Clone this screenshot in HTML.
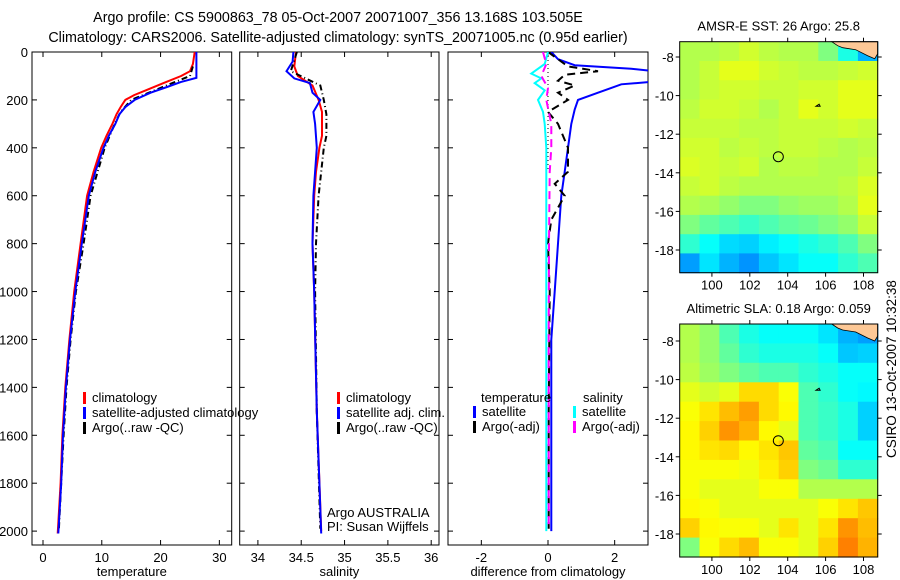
<!DOCTYPE html>
<html><head><meta charset="utf-8"><style>
body{margin:0;background:#fff;}
svg{display:block;font-family:"Liberation Sans",sans-serif;font-size:13px;}
</style></head><body>
<svg id="fig" width="900" height="580" viewBox="0 0 900 580" xmlns="http://www.w3.org/2000/svg">
<rect width="900" height="580" fill="#fff"/>
<text x="338" y="22" text-anchor="middle" font-size="14.3">Argo profile: CS 5900863_78 05-Oct-2007 20071007_356 13.168S 103.505E</text>
<text x="338" y="42" text-anchor="middle" font-size="14.3">Climatology: CARS2006. Satellite-adjusted climatology: synTS_20071005.nc (0.95d earlier)</text>
<g id="plots"></g>
<text transform="translate(896,458) rotate(-90)" font-size="13.5">CSIRO 13-Oct-2007 10:32:38</text>
</svg>
<script>
// ---------- data ----------
const depthTicks = [0,200,400,600,800,1000,1200,1400,1600,1800,2000];
const tempTicks = [0,10,20,30];
const salTicks = [34,34.5,35,35.5,36];
const diffTicks = [-2,0,2];

const tClimDepth = [0,50,80,100,130,160,180,200,230,260,300,350,400,500,600,800,1000,1200,1400,1600,1800,2010];
const tClimVal   = [25.8,25.5,25,23.5,20.5,17.5,15.5,14,13.2,12.5,11.8,10.8,9.9,8.6,7.5,6.4,5.3,4.5,3.8,3.3,3.0,2.5];
const tSatDepth  = [0,108,125,146,170,200,230,260,300,350,400,500,600,800,1000,1200,1400,1600,1800,2010];
const tSatVal    = [26.1,26.1,23.5,21.1,18.3,15.6,14.0,13.0,12.3,11.2,10.3,8.9,7.8,6.6,5.5,4.6,3.9,3.4,3.1,2.6];
const tArgoDepth = [60,100,130,160,200,250,300,400,600,800,1000,1200,1400,1600,1800,1990];
const tArgoVal   = [25.5,25,22,19,15,13.2,12.2,10.5,8.1,6.9,5.6,4.7,4.0,3.5,3.1,2.7];

const sClimDepth = [0,60,100,140,200,250,350,400,500,600,800,1000,1500,2000];
const sClimVal   = [34.44,34.42,34.46,34.63,34.7,34.74,34.74,34.71,34.67,34.65,34.63,34.65,34.68,34.73];
const sSatDepth  = [0,40,80,110,130,170,200,250,300,400,500,600,800,1000,1500,2010];
const sSatVal    = [34.41,34.4,34.33,34.42,34.6,34.63,34.72,34.64,34.66,34.68,34.66,34.64,34.63,34.65,34.68,34.73];
const sArgoDepth = [0,80,140,200,260,350,400,500,600,800,1000,1500,1990];
const sArgoVal   = [34.45,34.38,34.72,34.76,34.79,34.79,34.76,34.73,34.7,34.67,34.66,34.68,34.72];

const dTSatDepth  = [0,30,55,70,80,100,125,135,150,170,200,240,300,400,500,600,800,1000,1200,1500,2000];
const dTSatVal    = [0.1,0.3,0.8,2.5,3.2,3.3,3.1,2.2,1.9,1.5,0.9,0.8,0.7,0.6,0.5,0.4,0.3,0.2,0.1,0.1,0.1];
const dTArgoDepth = [0,60,80,95,120,140,170,200,250,300,400,500,550,600,700,800,1000,1500,1990];
const dTArgoVal   = [0,0.6,1.5,0.5,0.3,0.8,0.3,0.6,0,0.3,0.6,0.6,0.2,0.5,0.1,0,0.05,0.02,0.02];
const dSSatDepth  = [0,50,90,110,130,160,200,250,300,400,500,1000,1500,2000];
const dSSatVal    = [0,-0.1,-0.5,-0.2,-0.4,-0.1,-0.3,-0.15,-0.1,-0.05,-0.05,-0.05,-0.05,-0.05];
const dSArgoDepth = [0,50,100,150,200,300,400,500,800,1200,1600,1990];
const dSArgoVal   = [-0.15,-0.05,-0.2,0,-0.05,0.1,0.1,0.05,0.03,0.02,0.02,0.02];

const lonTicks = [100,102,104,106,108];
const latTicksSST = [-8,-10,-12,-14,-16,-18];
const latTicksSLA = [-8,-10,-12,-14,-16,-18];
const sstGrid = [
[.55,.55,.56,.58,.56,.55,.55,.5,.4,.3],
[.55,.57,.6,.6,.58,.57,.56,.56,.57,.58],
[.55,.57,.58,.58,.57,.57,.58,.58,.6,.6],
[.56,.58,.58,.57,.55,.57,.6,.58,.6,.6],
[.57,.57,.57,.56,.56,.57,.57,.57,.58,.57],
[.58,.58,.56,.57,.56,.57,.57,.56,.55,.56],
[.59,.58,.57,.58,.55,.56,.56,.55,.55,.57],
[.57,.58,.56,.55,.55,.55,.55,.55,.56,.59],
[.55,.54,.52,.5,.5,.52,.53,.53,.55,.6],
[.5,.47,.45,.43,.45,.47,.48,.5,.52,.57],
[.42,.38,.34,.33,.36,.38,.4,.42,.45,.5],
[.28,.35,.3,.27,.32,.35,.38,.38,.42,.45]];
const slaGrid = [
[.55,.52,.45,.4,.38,.38,.38,.35,.3,.28],
[.55,.52,.47,.42,.4,.4,.4,.38,.32,.33],
[.56,.53,.5,.47,.45,.45,.42,.4,.38,.38],
[.6,.58,.6,.66,.66,.62,.45,.42,.38,.37],
[.62,.65,.69,.72,.66,.63,.45,.43,.4,.33],
[.63,.67,.73,.7,.63,.6,.45,.43,.4,.33],
[.63,.65,.66,.63,.65,.68,.47,.45,.38,.38],
[.62,.62,.62,.61,.64,.67,.5,.48,.42,.42],
[.62,.6,.6,.6,.62,.62,.55,.55,.55,.55],
[.63,.62,.6,.6,.6,.6,.6,.62,.65,.68],
[.67,.63,.62,.62,.6,.65,.6,.65,.73,.69],
[.5,.62,.66,.69,.62,.62,.6,.67,.75,.7]];
const floatLon = 103.505, floatLat = -13.168;

// ---------- drawing ----------
const NS="http://www.w3.org/2000/svg";
const root=document.getElementById('plots');
function mk(tag,attrs,parent){const e=document.createElementNS(NS,tag);for(const k in attrs)e.setAttribute(k,attrs[k]);(parent||root).appendChild(e);return e;}

const Y0=52,Y1=545,D0=0,D1=2058;
const yD=d=>Y0+(d-D0)/(D1-D0)*(Y1-Y0);

function panel(name,x0,x1,dmin,dmax,ticks,label,showY){
  const g=mk('g',{});
  
  
  const sx=v=>x0+(v-dmin)/(dmax-dmin)*(x1-x0);
  const box=mk('rect',{x:x0,y:Y0,width:x1-x0,height:Y1-Y0,fill:'none',stroke:'#000','stroke-width':1},g);
  
  
  ticks.forEach(t=>{
    const x=sx(t);
    mk('line',{x1:x,x2:x,y1:Y1,y2:Y1-5,stroke:'#000'},g);
    mk('line',{x1:x,x2:x,y1:Y0,y2:Y0+5,stroke:'#000'},g);
    const tx=mk('text',{x:x,y:Y1+17,'text-anchor':'middle'},g);tx.textContent=t;
    
    
  });
  depthTicks.forEach(d=>{
    const y=yD(d);
    mk('line',{x1:x0,x2:x0+5,y1:y,y2:y,stroke:'#000'},g);
    mk('line',{x1:x1,x2:x1-5,y1:y,y2:y,stroke:'#000'},g);
    if(showY){const tx=mk('text',{x:x0-4,y:y+5,'text-anchor':'end'},g);tx.textContent=d;
      
      }
  });
  const lt=mk('text',{x:(x0+x1)/2,y:576,'text-anchor':'middle'},g);lt.textContent=label;
  
  
  const cp=mk('clipPath',{id:'cp'+name},g);mk('rect',{x:x0,y:Y0,width:x1-x0,height:Y1-Y0},cp);
  return {g,sx,clip:'url(#cp'+name+')'};
}
function series(P,name,depths,vals,color,w,dash){
  const pts=depths.map((d,i)=>P.sx(vals[i]).toFixed(1)+','+yD(d).toFixed(1)).join(' ');
  const a={points:pts,fill:'none',stroke:color,'stroke-width':w,'clip-path':P.clip};
  if(dash)a['stroke-dasharray']=dash;
  const l=mk('polyline',a,P.g);
  
  
}
function legend(g,x,y,items){
  items.forEach((it,i)=>{
    const yy=y+i*15;
    const m=mk('rect',{x:x,y:yy-10,width:3,height:12,fill:it[1]},g);
    
    
    const t=mk('text',{x:x+9,y:yy},g);t.textContent=it[0];
    
    
  });
}

// Panel 1 temperature
const P1=panel('temperature-panel',32,231.7,-1.87,32.1,tempTicks,'temperature',true);
series(P1,'temp-climatology-line',tClimDepth,tClimVal,'#f00',2);
series(P1,'temp-argo-line',tArgoDepth,tArgoVal,'#000',2,'6,3,1,3');
series(P1,'temp-satellite-line',tSatDepth,tSatVal,'#00f',2);

// Panel 2 salinity
const P2=panel('salinity-panel',239.7,439,33.79,36.09,salTicks,'salinity',false);
series(P2,'sal-climatology-line',sClimDepth,sClimVal,'#f00',2);
series(P2,'sal-argo-line',sArgoDepth,sArgoVal,'#000',2,'6,3,1,3');
series(P2,'sal-satellite-line',sSatDepth,sSatVal,'#00f',2);

// Panel 3 differences
const P3=panel('difference-panel',448,648,-3.0,3.0,diffTicks,'difference from climatology',false);
mk('line',{x1:P3.sx(0),x2:P3.sx(0),y1:yD(0),y2:yD(500),stroke:'#000','stroke-dasharray':'1,3'},P3.g);
series(P3,'diff-temp-satellite-line',dTSatDepth,dTSatVal,'#00f',2);
series(P3,'diff-temp-argo-line',dTArgoDepth,dTArgoVal,'#000',2,'8,5');
series(P3,'diff-sal-satellite-line',dSSatDepth,dSSatVal,'#0ff',2);
series(P3,'diff-sal-argo-line',dSArgoDepth,dSArgoVal,'#f0f',2,'8,5');

// legends
legend(root,83,402,[['climatology','#f00'],['satellite-adjusted climatology','#00f'],['Argo(..raw -QC)','#000']]);
legend(root,337,402,[['climatology','#f00'],['satellite adj. clim.','#00f'],['Argo(..raw -QC)','#000']]);
(function(){const t=mk('text',{x:481,y:402});t.textContent='temperature';


const t2=mk('text',{x:583,y:402});t2.textContent='salinity';

})();
legend(root,473,416,[['satellite','#00f'],['Argo(-adj)','#000']]);
legend(root,573,416,[['satellite','#0ff'],['Argo(-adj)','#f0f']]);
(function(){const a=mk('text',{x:327,y:517});a.textContent='Argo AUSTRALIA';


const b=mk('text',{x:327,y:531});b.textContent='PI: Susan Wijffels';

})();

// Maps
function jet(v){const c=x=>Math.round(255*Math.max(0,Math.min(1,x)));
  return 'rgb('+c(1.5-Math.abs(4*v-3))+','+c(1.5-Math.abs(4*v-2))+','+c(1.5-Math.abs(4*v-1))+')';}
function map(name,title,grid,latTicks,x0,x1,y0,y1,lat8y,lat18y){
  const g=mk('g',{});
  
  
  const lon0=98.3,lon1=108.75;
  const sx=l=>x0+(l-lon0)/(lon1-lon0)*(x1-x0);
  const py=(lat18y-lat8y)/10;
  const sy=la=>lat8y+(-8-la)*py;
  const nr=grid.length,nc=grid[0].length;
  const cw=(x1-x0)/nc,ch=(y1-y0)/nr;
  grid.forEach((row,r)=>row.forEach((v,c)=>{
    const cell=mk('rect',{x:(x0+c*cw).toFixed(1),y:(y0+r*ch).toFixed(1),width:(cw+0.6).toFixed(1),height:(ch+0.6).toFixed(1),fill:jet(v)},g);
    
    
  }));
  const land=mk('path',{d:`M${x0+152},${y0} L${x1},${y0} L${x1},${y0+12} L${x1-3},${y0+17} L${x1-10},${y0+14} L${x1-22},${y0+8} L${x1-35},${y0+6} L${x1-40},${y0+4} Z`,fill:'#fdc896',stroke:'#000','stroke-width':0.8},g);
  
  
  const isl=mk('path',{d:`M${sx(105.5)},${sy(-10.55)} l3,-2 l1,2 z`,fill:'none',stroke:'#000'},g);
  
  
  const fm=mk('circle',{cx:sx(floatLon),cy:sy(floatLat),r:5,fill:'none',stroke:'#000'},g);
  
  
  mk('rect',{x:x0,y:y0,width:x1-x0,height:y1-y0,fill:'none',stroke:'#000'},g);
  lonTicks.forEach(l=>{const x=sx(l);
    mk('line',{x1:x,x2:x,y1:y1,y2:y1+4,stroke:'#000'},g);
    mk('line',{x1:x,x2:x,y1:y0,y2:y0-4,stroke:'#000'},g);
    const t=mk('text',{x:x,y:y1+17,'text-anchor':'middle'},g);t.textContent=l;
    
    });
  latTicks.forEach(la=>{const y=sy(la);
    mk('line',{x1:x0,x2:x0-4,y1:y,y2:y,stroke:'#000'},g);
    mk('line',{x1:x1,x2:x1+4,y1:y,y2:y,stroke:'#000'},g);
    const t=mk('text',{x:x0-6,y:y+5,'text-anchor':'end'},g);t.textContent=la;
    
    });
  const tt=mk('text',{x:(x0+x1)/2,y:y0-11,'text-anchor':'middle'},g);tt.textContent=title;
  
  
}
map('sst-map','AMSR-E SST: 26 Argo: 25.8',sstGrid,latTicksSST,679.7,877.7,41.7,272.7,57,250);
map('sla-map','Altimetric SLA: 0.18 Argo: 0.059',slaGrid,latTicksSLA,679.7,877.7,324,557,341,534);
</script>
</body></html>
